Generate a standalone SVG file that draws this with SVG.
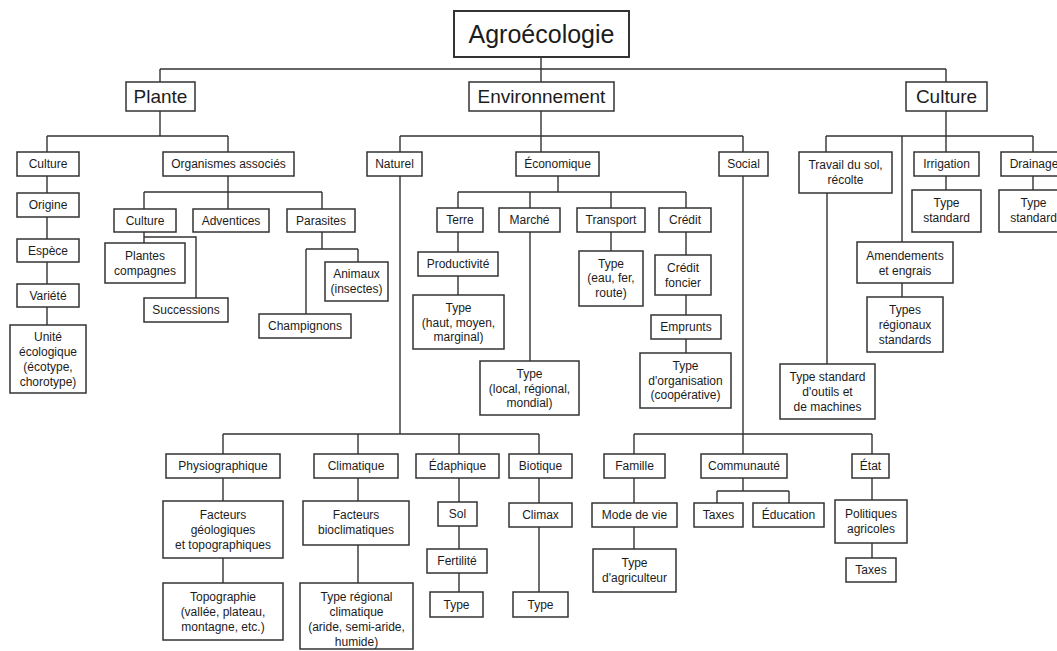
<svg xmlns="http://www.w3.org/2000/svg" width="1057" height="651" viewBox="0 0 1057 651">
<style>
rect{fill:#fff;stroke:#333;stroke-width:1.5}
text{font-family:"Liberation Sans",Arial,sans-serif;font-size:12px;text-anchor:middle;fill:#1c1c1c}
.h1 text{font-size:25px}
.h2 text{font-size:19px}
#connectors path{fill:none;stroke:#333;stroke-width:1.4}
</style>
<rect x="0" y="0" width="1057" height="651" style="fill:#fff;stroke:none"/>
<g id="connectors">
<path d="M541 57V69M160 69H946M160 69V82M541 69V82M946 69V82"/>
<path d="M160 111V136M47 136H228M47 136V152M228 136V152"/>
<path d="M47 176V193M47 217V239M47 262V284M47 307V325"/>
<path d="M228 176V209M144 192H322M144 192V209M322 192V209"/>
<path d="M144 232V243M144 237H196V298"/>
<path d="M322 232V249M306 249H358M306 249V314M358 249V262"/>
<path d="M541 111V152M400 136H743M400 136V152M743 136V152"/>
<path d="M558 176V192M458 192H686M458 192V208M530 192V208M611 192V208M686 192V208"/>
<path d="M458 232V252M458 276V295M530 232V361M611 232V251M686 232V255M686 295V315M686 339V353"/>
<path d="M400 176V434M223 434H539M223 434V454M358 434V454M459 434V454M539 434V454"/>
<path d="M223 478V501M223 558V583M358 478V501M358 545V583M459 478V502M459 526V549M459 573V592M539 478V503M539 527V592"/>
<path d="M743 176V454M634 434H872M634 434V454M872 434V454"/>
<path d="M634 478V503M634 527V549M743 478V491M717 491H789M717 491V503M789 491V503M872 478V500M872 543V558"/>
<path d="M946 111V152M826 136H1033M826 136V152M902 136V242M1033 136V152"/>
<path d="M827 193V364M946 176V190M1033 176V190M902 283V297"/>
</g>
<g id="agroecologie" class="h1"><rect x="454" y="11" width="175" height="46" style="stroke-width:2"/><text x="541.5" y="43">Agroécologie</text></g>
<g id="plante" class="h2"><rect x="126" y="82" width="69" height="29"/><text x="160.5" y="103">Plante</text></g>
<g id="environnement" class="h2"><rect x="469" y="82" width="145" height="29"/><text x="541.5" y="103">Environnement</text></g>
<g id="culture-main" class="h2"><rect x="906" y="82" width="81" height="29"/><text x="946.5" y="103">Culture</text></g>

<g id="p-culture"><rect x="17" y="152" width="62" height="24"/><text x="48" y="168">Culture</text></g>
<g id="organismes"><rect x="163" y="152" width="131" height="24"/><text x="228.5" y="168">Organismes associés</text></g>
<g id="origine"><rect x="17" y="193" width="62" height="24"/><text x="48" y="209">Origine</text></g>
<g id="espece"><rect x="17" y="239" width="62" height="23"/><text x="48" y="254.5">Espèce</text></g>
<g id="variete"><rect x="17" y="284" width="62" height="23"/><text x="48" y="299.5">Variété</text></g>
<g id="unite"><rect x="10" y="325" width="76" height="68"/><text x="48" y="341">Unité<tspan x="48" dy="15">écologique</tspan><tspan x="48" dy="15">(écotype,</tspan><tspan x="48" dy="15">chorotype)</tspan></text></g>
<g id="o-culture"><rect x="114" y="209" width="62" height="23"/><text x="145" y="224.5">Culture</text></g>
<g id="adventices"><rect x="193" y="209" width="76" height="23"/><text x="231" y="224.5">Adventices</text></g>
<g id="parasites"><rect x="287" y="209" width="68" height="23"/><text x="321" y="224.5">Parasites</text></g>
<g id="plantes-compagnes"><rect x="105" y="243" width="80" height="40"/><text x="145" y="260">Plantes<tspan x="145" dy="15">compagnes</tspan></text></g>
<g id="successions"><rect x="144" y="298" width="84" height="24"/><text x="186" y="314">Successions</text></g>
<g id="animaux"><rect x="325" y="262" width="63" height="39"/><text x="356.5" y="278">Animaux<tspan x="356.5" dy="15">(insectes)</tspan></text></g>
<g id="champignons"><rect x="259" y="314" width="92" height="24"/><text x="305" y="330">Champignons</text></g>

<g id="naturel"><rect x="367" y="152" width="55" height="24"/><text x="394.5" y="168">Naturel</text></g>
<g id="economique"><rect x="516" y="152" width="83" height="24"/><text x="557.5" y="168">Économique</text></g>
<g id="social"><rect x="719" y="152" width="49" height="24"/><text x="743.5" y="168">Social</text></g>
<g id="terre"><rect x="437" y="208" width="46" height="24"/><text x="460" y="224">Terre</text></g>
<g id="marche"><rect x="499" y="208" width="61" height="24"/><text x="529.5" y="224">Marché</text></g>
<g id="transport"><rect x="577" y="208" width="68" height="24"/><text x="611" y="224">Transport</text></g>
<g id="credit"><rect x="659" y="208" width="52" height="24"/><text x="685" y="224">Crédit</text></g>
<g id="productivite"><rect x="418" y="252" width="80" height="24"/><text x="458" y="268">Productivité</text></g>
<g id="type-haut"><rect x="413" y="295" width="91" height="54"/><text x="458.5" y="312">Type<tspan x="458.5" dy="14.5">(haut, moyen,</tspan><tspan x="458.5" dy="14.5">marginal)</tspan></text></g>
<g id="type-local"><rect x="480" y="361" width="99" height="54"/><text x="529.5" y="378">Type<tspan x="529.5" dy="14.5">(local, régional,</tspan><tspan x="529.5" dy="14.5">mondial)</tspan></text></g>
<g id="type-eau"><rect x="579" y="251" width="64" height="55"/><text x="611" y="267.5">Type<tspan x="611" dy="14.5">(eau, fer,</tspan><tspan x="611" dy="14.5">route)</tspan></text></g>
<g id="credit-foncier"><rect x="655" y="255" width="56" height="40"/><text x="683" y="272">Crédit<tspan x="683" dy="15">foncier</tspan></text></g>
<g id="emprunts"><rect x="651" y="315" width="70" height="24"/><text x="686" y="331">Emprunts</text></g>
<g id="type-org"><rect x="640" y="353" width="91" height="55"/><text x="685.5" y="370">Type<tspan x="685.5" dy="14.5">d'organisation</tspan><tspan x="685.5" dy="14.5">(coopérative)</tspan></text></g>

<g id="physiographique"><rect x="166" y="454" width="114" height="24"/><text x="223" y="470">Physiographique</text></g>
<g id="climatique"><rect x="314" y="454" width="84" height="24"/><text x="356" y="470">Climatique</text></g>
<g id="edaphique"><rect x="416" y="454" width="83" height="24"/><text x="457.5" y="470">Édaphique</text></g>
<g id="biotique"><rect x="509" y="454" width="63" height="24"/><text x="540.5" y="470">Biotique</text></g>
<g id="facteurs-geo"><rect x="163" y="501" width="120" height="57"/><text x="223" y="519">Facteurs<tspan x="223" dy="15">géologiques</tspan><tspan x="223" dy="15">et topographiques</tspan></text></g>
<g id="facteurs-bio"><rect x="303" y="501" width="106" height="44"/><text x="356" y="519">Facteurs<tspan x="356" dy="15">bioclimatiques</tspan></text></g>
<g id="topographie"><rect x="163" y="583" width="120" height="57"/><text x="223" y="601">Topographie<tspan x="223" dy="15">(vallée, plateau,</tspan><tspan x="223" dy="15">montagne, etc.)</tspan></text></g>
<g id="type-regional"><rect x="300" y="583" width="113" height="66"/><text x="356.5" y="601">Type régional<tspan x="356.5" dy="15">climatique</tspan><tspan x="356.5" dy="15">(aride, semi-aride,</tspan><tspan x="356.5" dy="14.5">humide)</tspan></text></g>
<g id="sol"><rect x="438" y="502" width="39" height="24"/><text x="457.5" y="518">Sol</text></g>
<g id="fertilite"><rect x="427" y="549" width="60" height="24"/><text x="457" y="565">Fertilité</text></g>
<g id="type-e"><rect x="430" y="592" width="53" height="25"/><text x="456.5" y="608.5">Type</text></g>
<g id="climax"><rect x="509" y="503" width="63" height="24"/><text x="540.5" y="519">Climax</text></g>
<g id="type-b"><rect x="513" y="592" width="55" height="25"/><text x="540.5" y="608.5">Type</text></g>

<g id="famille"><rect x="604" y="454" width="61" height="24"/><text x="634.5" y="470">Famille</text></g>
<g id="communaute"><rect x="701" y="454" width="86" height="24"/><text x="744" y="470">Communauté</text></g>
<g id="etat"><rect x="852" y="454" width="37" height="24"/><text x="870.5" y="470">État</text></g>
<g id="mode-de-vie"><rect x="592" y="503" width="85" height="24"/><text x="634.5" y="519">Mode de vie</text></g>
<g id="type-agri"><rect x="593" y="549" width="83" height="43"/><text x="634.5" y="567">Type<tspan x="634.5" dy="14.5">d'agriculteur</tspan></text></g>
<g id="taxes1"><rect x="694" y="503" width="49" height="24"/><text x="718.5" y="519">Taxes</text></g>
<g id="education"><rect x="753" y="503" width="71" height="24"/><text x="788.5" y="519">Éducation</text></g>
<g id="politiques"><rect x="835" y="500" width="72" height="43"/><text x="871" y="518">Politiques<tspan x="871" dy="14.5">agricoles</tspan></text></g>
<g id="taxes2"><rect x="846" y="558" width="50" height="24"/><text x="871" y="574">Taxes</text></g>

<g id="travail"><rect x="799" y="152" width="93" height="41"/><text x="845.5" y="169">Travail du sol,<tspan x="845.5" dy="15">récolte</tspan></text></g>
<g id="irrigation"><rect x="914" y="152" width="65" height="24"/><text x="946.5" y="168">Irrigation</text></g>
<g id="drainage"><rect x="1001" y="152" width="66" height="24"/><text x="1034" y="168">Drainage</text></g>
<g id="type-std-i"><rect x="912" y="190" width="69" height="42"/><text x="946.5" y="207">Type<tspan x="946.5" dy="14.5">standard</tspan></text></g>
<g id="type-std-d"><rect x="999" y="190" width="69" height="42"/><text x="1033.5" y="207">Type<tspan x="1033.5" dy="14.5">standard</tspan></text></g>
<g id="amendements"><rect x="857" y="242" width="96" height="41"/><text x="905" y="260">Amendements<tspan x="905" dy="15">et engrais</tspan></text></g>
<g id="types-regionaux"><rect x="867" y="297" width="76" height="55"/><text x="905" y="314">Types<tspan x="905" dy="15">régionaux</tspan><tspan x="905" dy="14.5">standards</tspan></text></g>
<g id="type-outils"><rect x="780" y="364" width="95" height="55"/><text x="827.5" y="381">Type standard<tspan x="827.5" dy="15">d'outils et</tspan><tspan x="827.5" dy="15">de machines</tspan></text></g>
</svg>
